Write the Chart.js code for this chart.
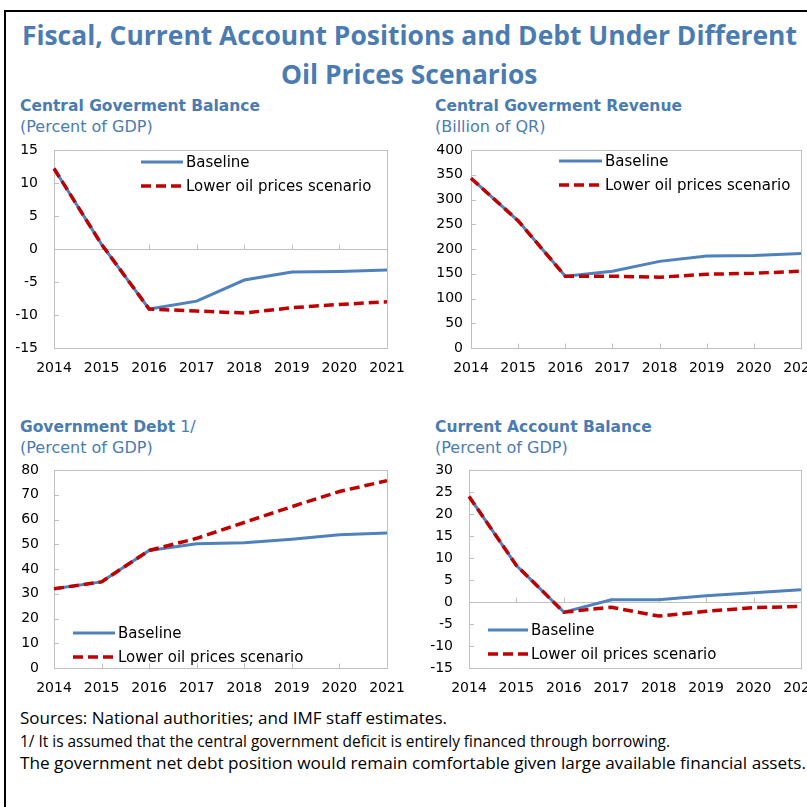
<!DOCTYPE html>
<html>
<head>
<meta charset="utf-8">
<script src="https://cdn.jsdelivr.net/npm/chart.js@4.4.0/dist/chart.umd.min.js"></script>
<style>
  body { margin: 0; width: 807px; height: 807px; overflow: hidden; background: #fff; position: relative; }
  .frame { position: absolute; left: 4px; top: 10px; width: 900px; height: 900px; border-left: 2px solid #000; border-top: 2px solid #000; }
  .title { position: absolute; left: 0; width: 819px; text-align: center; font-family: "Open Sans", sans-serif; font-weight: bold; font-size: 26px; color: #4a7cb2; line-height: 30px; white-space: nowrap; }
  .title span { display: inline-block; transform-origin: center; }
  .sub { position: absolute; font-family: "DejaVu Sans", sans-serif; font-size: 16px; color: #4a7cb2; line-height: 20px; white-space: nowrap; }
  .sub b { font-size: 15.5px; }
  .note { position: absolute; left: 20px; font-family: "Open Sans", sans-serif; font-size: 16px; color: #000; line-height: 20px; white-space: nowrap; transform-origin: left center; }
  canvas { position: absolute; }
</style>
</head>
<body>
<div class="frame"></div>
<div class="title" style="top:20px"><span id="t1">Fiscal, Current Account Positions and Debt Under Different</span></div>
<div class="title" style="top:59px"><span id="t2">Oil Prices Scenarios</span></div>

<div class="sub" style="left:20px;top:96px"><b>Central Goverment Balance</b></div>
<div class="sub" style="left:20px;top:117px">(Percent of GDP)</div>
<div class="sub" style="left:435px;top:96px"><b>Central Goverment Revenue</b></div>
<div class="sub" style="left:435px;top:117px">(Billion of QR)</div>
<div class="sub" style="left:20px;top:417px"><b>Government Debt</b> 1/</div>
<div class="sub" style="left:20px;top:438px">(Percent of GDP)</div>
<div class="sub" style="left:435px;top:417px"><b>Current Account Balance</b></div>
<div class="sub" style="left:435px;top:438px">(Percent of GDP)</div>

<canvas id="c1" width="410" height="240" style="left:0;top:140px"></canvas>
<canvas id="c2" width="414" height="240" style="left:410px;top:140px"></canvas>
<canvas id="c3" width="410" height="240" style="left:0;top:460px"></canvas>
<canvas id="c4" width="414" height="240" style="left:410px;top:460px"></canvas>

<div class="note" id="n1" style="top:708px">Sources: National authorities; and IMF staff estimates.</div>
<div class="note" id="n2" style="top:731px">1/ It is assumed that the central government deficit is entirely financed through borrowing.</div>
<div class="note" id="n3" style="top:753px">The government net debt position would remain comfortable given large available financial assets.</div>

<script>
var years = ['2014', '2015', '2016', '2017', '2018', '2019', '2020', '2021'];
var seriesNames = ['Baseline', 'Lower oil prices scenario'];

var balanceBaseline = [12.2, 0.7, -9.1, -7.9, -4.7, -3.5, -3.4, -3.2];
var balanceLower = [12.2, 0.7, -9.1, -9.4, -9.7, -8.9, -8.4, -8.0];
var balanceRange = [-15, 15, 5];

var revenueBaseline = [343, 257, 145, 155, 175, 186, 187, 191];
var revenueLower = [343, 257, 145, 145, 143, 149, 151, 155];
var revenueRange = [0, 400, 50];

var debtBaseline = [32.0, 34.8, 47.5, 50.2, 50.6, 52.0, 53.8, 54.5];
var debtLower = [32.0, 34.8, 47.5, 52.4, 58.8, 65.2, 71.3, 75.7];
var debtRange = [0, 80, 10];

var caBaseline = [24.0, 8.3, -2.3, 0.5, 0.5, 1.4, 2.1, 2.8];
var caLower = [24.0, 8.3, -2.3, -1.2, -3.2, -2.1, -1.3, -1.0];
var caRange = [-15, 30, 5];

// fit title / notes widths
function fit(id, w, sameAs) {
    var el = document.getElementById(id);
    var s = sameAs || (w / el.getBoundingClientRect().width);
    el.style.transform = 'scaleX(' + s + ')';
    return s;
}
var ts = fit('t1', 775);
fit('t2', 0, ts);
fit('n1', 427);
fit('n2', 650);
fit('n3', 786);

var axisGray = '#bfbfbf';

// plot box, zero line and inward tick marks like the excel chart
var framePlugin = {
    id: 'frame',
    beforeDatasetsDraw: function (chart) {
        var a = chart.chartArea, ctx = chart.ctx;
        var x = chart.scales.x, y = chart.scales.y;
        ctx.save();
        ctx.strokeStyle = axisGray;
        ctx.lineWidth = 1;
        ctx.strokeRect(Math.round(a.left) + 0.5, Math.round(a.top) + 0.5, Math.round(a.right - a.left), Math.round(a.bottom - a.top));
        var base = Math.round(y.min < 0 ? y.getPixelForValue(0) : a.bottom) + 0.5;
        ctx.beginPath();
        if (y.min < 0) {
            ctx.moveTo(a.left, base);
            ctx.lineTo(a.right, base);
        }
        x.ticks.forEach(function (t, i) {
            var px = Math.round(x.getPixelForTick(i)) + 0.5;
            ctx.moveTo(px, base);
            ctx.lineTo(px, base - 5);
        });
        y.ticks.forEach(function (t, i) {
            var py = Math.round(y.getPixelForTick(i)) + 0.5;
            ctx.moveTo(a.left, py);
            ctx.lineTo(a.left + 5, py);
        });
        ctx.stroke();
        ctx.restore();
    },
    afterDraw: function (chart) {
        var o = chart.options.plugins.frame;
        var ctx = chart.ctx;
        ctx.save();
        ctx.font = '15px "DejaVu Sans"';
        ctx.textBaseline = 'middle';
        ctx.fillStyle = '#000';
        chart.data.datasets.forEach(function (ds, i) {
            var yy = o.y + i * o.gap;
            ctx.beginPath();
            ctx.strokeStyle = ds.borderColor;
            ctx.lineWidth = ds.borderWidth;
            ctx.setLineDash(ds.borderDash || []);
            ctx.moveTo(o.x, yy);
            ctx.lineTo(o.x + o.len, yy);
            ctx.stroke();
            ctx.fillText(ds.label, o.x + o.len + 3, yy + 1);
        });
        ctx.restore();
    }
};

function makeChart(id, base, lower, range, area, yGap, legend) {
    var chart = new Chart(document.getElementById(id), {
        type: 'line',
        data: {
            labels: years,
            datasets: [{
                label: seriesNames[0],
                data: base,
                borderColor: '#4f81bd',
                borderWidth: 3,
                pointRadius: 0,
                tension: 0,
                order: 1
            }, {
                label: seriesNames[1],
                data: lower,
                borderColor: '#c00000',
                borderWidth: 3.5,
                borderDash: [10, 5],
                pointRadius: 0,
                tension: 0,
                order: 0
            }]
        },
        options: {
            responsive: false,
            animation: false,
            devicePixelRatio: 1,
            layout: { padding: { top: 10, right: 20, left: 0, bottom: 0 } },
            plugins: {
                legend: { display: false },
                tooltip: { enabled: false },
                frame: legend
            },
            scales: {
                x: {
                    offset: false,
                    grid: { drawOnChartArea: false, drawTicks: true, tickLength: 12, color: 'rgba(0,0,0,0)' },
                    border: { display: false },
                    ticks: { color: '#000', font: { family: 'DejaVu Sans', size: 14 }, padding: 0, maxRotation: 0, autoSkip: false },
                    afterFit: function (s) { s.height = 32; }
                },
                y: {
                    min: range[0],
                    max: range[1],
                    grid: { drawOnChartArea: false, drawTicks: true, tickLength: yGap, color: 'rgba(0,0,0,0)' },
                    border: { display: false },
                    ticks: { stepSize: range[2], color: '#000', font: { family: 'DejaVu Sans', size: 14 }, padding: 0 },
                    afterFit: function (s) { s.width = area.left; }
                }
            }
        },
        plugins: [framePlugin]
    });
    // nudge the layout padding so the plot box lands where the reference has it
    for (var k = 0; k < 3; k++) {
        var a = chart.chartArea;
        var p = chart.config.options.layout.padding;
        p.top += area.top - a.top;
        p.bottom += a.bottom - area.bottom;
        p.right += a.right - area.right;
        chart.update();
    }
    return chart;
}

// area = plot box in canvas pixels
makeChart('c1', balanceBaseline, balanceLower, balanceRange, { left: 54, top: 10, right: 387, bottom: 208 }, 16, { x: 141, y: 22, gap: 24, len: 42 });
makeChart('c2', revenueBaseline, revenueLower, revenueRange, { left: 61, top: 10, right: 391, bottom: 208 }, 8, { x: 149, y: 21, gap: 24, len: 43 });
makeChart('c3', debtBaseline, debtLower, debtRange, { left: 54, top: 10, right: 387, bottom: 208 }, 15, { x: 73, y: 173, gap: 24, len: 42 });
makeChart('c4', caBaseline, caLower, caRange, { left: 59, top: 10, right: 391, bottom: 208 }, 16, { x: 78, y: 170, gap: 24, len: 40 });
</script>
</body>
</html>
